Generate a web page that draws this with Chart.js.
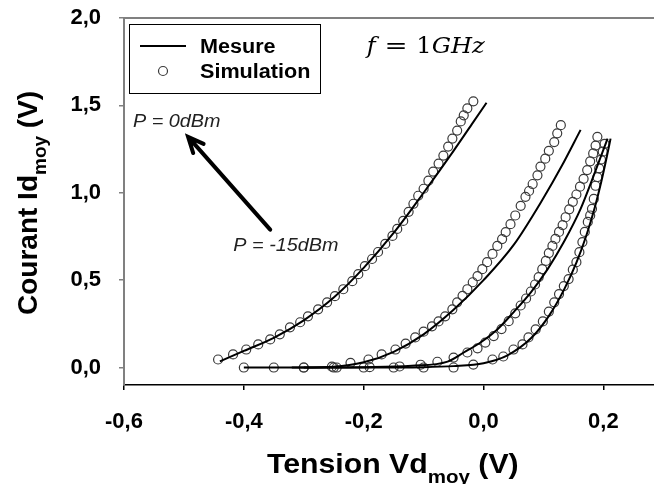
<!DOCTYPE html>
<html>
<head>
<meta charset="utf-8">
<script src="https://cdn.jsdelivr.net/npm/chart.js@4.4.1/dist/chart.umd.min.js"></script>
<style>
html,body{margin:0;padding:0;background:#fff;overflow:hidden}
</style>
</head>
<body>
<canvas id="chart" width="660" height="484"></canvas>
<script>

/* AXES */

const xTickValues = [-0.6, -0.4, -0.2, 0.0, 0.2];
const yTickValues = [0.0, 0.5, 1.0, 1.5, 2.0];

const legendLabels = ["Mesure", "Simulation"];

/* MESURE (lines) */

const mesure1X = [-0.44, -0.40, -0.35, -0.30, -0.25, -0.20, -0.15, -0.10, -0.05, -0.02, 0.005];
const mesure1Y = [0.035, 0.095, 0.17, 0.27, 0.40, 0.57, 0.77, 1.00, 1.24, 1.39, 1.515];

const mesure2X = [-0.32, -0.25, -0.20, -0.15, -0.10, -0.05, 0.00, 0.05, 0.10, 0.13, 0.162];
const mesure2Y = [0.0, 0.005, 0.03, 0.09, 0.19, 0.33, 0.50, 0.70, 0.97, 1.15, 1.36];

const mesure3X = [-0.30, -0.20, -0.12, -0.06, -0.033, -0.005, 0.023, 0.05, 0.079, 0.107, 0.134, 0.162, 0.184, 0.207];
const mesure3Y = [0.0, 0.002, 0.01, 0.034, 0.086, 0.143, 0.218, 0.316, 0.43, 0.563, 0.718, 0.908, 1.10, 1.31];

const mesure4X = [-0.40, -0.30, -0.20, -0.10, -0.05, 0.0, 0.04, 0.08, 0.11, 0.135, 0.155, 0.172, 0.186, 0.197, 0.206, 0.212];
const mesure4Y = [0.0, 0.0, 0.0, 0.002, 0.008, 0.025, 0.07, 0.17, 0.30, 0.45, 0.60, 0.76, 0.92, 1.07, 1.21, 1.31];

/* SIMULATION (circles) */

const sim1X = [-0.443, -0.418, -0.396, -0.376, -0.356, -0.34, -0.323, -0.306, -0.293, -0.276, -0.261, -0.248, -0.234, -0.219, -0.209, -0.198, -0.186, -0.176, -0.164, -0.152, -0.144, -0.134, -0.125, -0.117, -0.109, -0.10, -0.092, -0.084, -0.075, -0.067, -0.059, -0.052, -0.044, -0.038, -0.033, -0.027, -0.017];
const sim1Y = [0.046, 0.075, 0.103, 0.132, 0.161, 0.19, 0.23, 0.259, 0.293, 0.333, 0.373, 0.408, 0.448, 0.494, 0.534, 0.58, 0.621, 0.661, 0.707, 0.753, 0.793, 0.839, 0.891, 0.937, 0.983, 1.023, 1.069, 1.121, 1.167, 1.213, 1.264, 1.31, 1.356, 1.408, 1.443, 1.483, 1.523];

const sim2X = [-0.30, -0.253, -0.222, -0.192, -0.17, -0.147, -0.13, -0.114, -0.10, -0.086, -0.075, -0.064, -0.052, -0.044, -0.035, -0.027, -0.018, -0.01, -0.002, 0.006, 0.015, 0.023, 0.031, 0.037, 0.045, 0.053, 0.062, 0.07, 0.076, 0.082, 0.09, 0.095, 0.103, 0.109, 0.118, 0.123, 0.129];
const sim2Y = [0.0, 0.005, 0.027, 0.046, 0.075, 0.103, 0.137, 0.172, 0.205, 0.236, 0.264, 0.293, 0.333, 0.373, 0.41, 0.448, 0.488, 0.523, 0.563, 0.603, 0.65, 0.696, 0.735, 0.775, 0.82, 0.87, 0.925, 0.977, 1.01, 1.05, 1.10, 1.15, 1.195, 1.24, 1.29, 1.34, 1.387];

const sim3X = [-0.245, -0.19, -0.14, -0.105, -0.077, -0.05, -0.027, -0.01, 0.003, 0.017, 0.03, 0.042, 0.053, 0.062, 0.071, 0.079, 0.086, 0.092, 0.098, 0.104, 0.109, 0.115, 0.12, 0.126, 0.132, 0.137, 0.143, 0.149, 0.155, 0.161, 0.167, 0.173, 0.178, 0.183, 0.187, 0.19];
const sim3Y = [0.0, 0.002, 0.006, 0.016, 0.033, 0.057, 0.086, 0.11, 0.143, 0.18, 0.22, 0.265, 0.31, 0.355, 0.395, 0.435, 0.475, 0.517, 0.563, 0.61, 0.655, 0.696, 0.736, 0.776, 0.815, 0.86, 0.905, 0.948, 0.99, 1.035, 1.08, 1.13, 1.18, 1.225, 1.27, 1.32];

const sim4X = [-0.40, -0.35, -0.30, -0.25, -0.20, -0.15, -0.10, -0.05, -0.017, 0.015, 0.033, 0.05, 0.065, 0.075, 0.087, 0.099, 0.109, 0.118, 0.126, 0.134, 0.142, 0.149, 0.155, 0.16, 0.165, 0.169, 0.174, 0.178, 0.181, 0.184, 0.187, 0.19, 0.193, 0.196, 0.199, 0.202];
const sim4Y = [0.0, 0.0, 0.0, 0.0, 0.0, 0.0, 0.0, 0.0, 0.017, 0.046, 0.063, 0.103, 0.132, 0.172, 0.218, 0.264, 0.32, 0.373, 0.42, 0.466, 0.506, 0.56, 0.603, 0.66, 0.718, 0.776, 0.833, 0.87, 0.908, 0.965, 1.04, 1.09, 1.14, 1.19, 1.235, 1.28];

/* HELPERS */

const FONT = "'Liberation Sans', Arial, sans-serif";
Chart.defaults.font.family = FONT;

function pts(xs, ys){
return xs.map((x,i)=>({x:x, y:ys[i]}));
}

function fmt(v){
if(Math.abs(v)<1e-9) v=0;
return v.toFixed(1).replace(".", ",");
}

function txt(ctx, s, x, y, font, sx){
ctx.save();
ctx.font = font;
ctx.translate(x, y);
ctx.scale(sx || 1, 1);
ctx.fillText(s, 0, 0);
const w = ctx.measureText(s).width * (sx || 1);
ctx.restore();
return w;
}

function lineSet(xs, ys){
return {
label: legendLabels[0],
data: pts(xs, ys),
showLine: true,
borderColor: "#000",
borderWidth: 2,
pointRadius: 0,
cubicInterpolationMode: "monotone",
fill: false
};
}

function simSet(xs, ys){
return {
label: legendLabels[1],
data: pts(xs, ys),
showLine: false,
pointRadius: 4.5,
pointStyle: "circle",
pointBackgroundColor: "rgba(255,255,255,0)",
pointBorderColor: "#3a3a3a",
pointBorderWidth: 1.2
};
}

/* EXTRA DRAWING: frame, legend, notes, axis titles */

const extras = {
id: "extras",
afterDraw(chart){

const ctx = chart.ctx;
const a = chart.chartArea;
const xs = chart.scales.x;
const ys = chart.scales.y;

ctx.save();
ctx.fillStyle = "#000";
ctx.textBaseline = "alphabetic";

// top frame line
ctx.strokeStyle = "#808080";
ctx.lineWidth = 2;
ctx.beginPath();
ctx.moveTo(a.left, a.top);
ctx.lineTo(a.right, a.top);
ctx.stroke();

// legend box
const bx = a.left + 5, by = a.top + 6;
ctx.fillStyle = "#fff";
ctx.fillRect(bx, by, 191, 69);
ctx.strokeStyle = "#000";
ctx.lineWidth = 1;
ctx.strokeRect(bx + 0.5, by + 0.5, 191, 69);

ctx.lineWidth = 2;
ctx.beginPath();
ctx.moveTo(bx + 11, by + 22);
ctx.lineTo(bx + 57, by + 22);
ctx.stroke();

ctx.strokeStyle = "#3a3a3a";
ctx.lineWidth = 1.2;
ctx.beginPath();
ctx.arc(bx + 34, by + 47, 4.5, 0, Math.PI*2);
ctx.stroke();

ctx.fillStyle = "#000";
txt(ctx, legendLabels[0], bx + 71, by + 29, "bold 20px " + FONT, 1.08);
txt(ctx, legendLabels[1], bx + 71, by + 54, "bold 20px " + FONT, 1.08);

// f = 1GHz
let fx = xs.getPixelForValue(-0.195);
const fy = ys.getPixelForValue(1.80);
const serif = "'DejaVu Serif', 'Liberation Serif', serif";
fx += txt(ctx, "f", fx, fy, "italic 23px " + serif, 1.05);
fx += txt(ctx, " = ", fx, fy, "23px " + serif, 1.2);
fx += txt(ctx, "1", fx, fy, "23px " + serif, 1.05);
txt(ctx, "GHz", fx, fy, "italic 23px " + serif, 1.05);

// power notes
ctx.fillStyle = "#222";
txt(ctx, "P = 0dBm", xs.getPixelForValue(-0.585), ys.getPixelForValue(1.377), "italic 18px " + FONT, 1.1);
txt(ctx, "P = -15dBm", xs.getPixelForValue(-0.4175), ys.getPixelForValue(0.669), "italic 18px " + FONT, 1.1);

// arrow -15dBm -> 0dBm
const tx = xs.getPixelForValue(-0.356), ty = ys.getPixelForValue(0.789);
const hx = xs.getPixelForValue(-0.493), hy = ys.getPixelForValue(1.32);
const ang = Math.atan2(hy - ty, hx - tx);
ctx.strokeStyle = "#000";
ctx.lineWidth = 4;
ctx.lineCap = "round";
ctx.beginPath();
ctx.moveTo(tx, ty);
ctx.lineTo(hx, hy);
ctx.moveTo(hx - 17*Math.cos(ang - 0.42), hy - 17*Math.sin(ang - 0.42));
ctx.lineTo(hx, hy);
ctx.lineTo(hx - 17*Math.cos(ang + 0.42), hy - 17*Math.sin(ang + 0.42));
ctx.stroke();

// x title
ctx.fillStyle = "#000";
let px = 267;
px += txt(ctx, "Tension Vd", px, 473, "bold 28px " + FONT, 1.08);
px += txt(ctx, "moy", px, 483, "bold 19px " + FONT, 1.08);
txt(ctx, " (V)", px, 473, "bold 28px " + FONT, 1.08);

// y title (rotated)
ctx.save();
ctx.translate(37, 315);
ctx.rotate(-Math.PI/2);
let py = 0;
py += txt(ctx, "Courant Id", py, 0, "bold 28px " + FONT, 1);
py += txt(ctx, "moy", py, 9, "bold 19px " + FONT, 1);
txt(ctx, " (V)", py, 0, "bold 28px " + FONT, 1);
ctx.restore();

ctx.restore();
}
};

/* CHART */

const ctx = document.getElementById("chart");

new Chart(ctx, {
type: "scatter",
data: {
datasets: [
lineSet(mesure1X, mesure1Y),
lineSet(mesure2X, mesure2Y),
lineSet(mesure3X, mesure3Y),
lineSet(mesure4X, mesure4Y),
simSet(sim1X, sim1Y),
simSet(sim2X, sim2Y),
simSet(sim3X, sim3Y),
simSet(sim4X, sim4Y)
]
},
options: {
responsive: false,
animation: false,
devicePixelRatio: 1,
layout: {padding: {top: 18, right: 0, bottom: 0, left: 0}},
plugins: {
legend: {display: false},
tooltip: {enabled: false}
},
scales: {
x: {
type: "linear",
min: -0.6,
max: 0.285,
afterBuildTicks: s => { s.ticks = xTickValues.map(v => ({value: v})); },
afterFit: s => { s.height = 99; s.paddingLeft = 0; s.paddingRight = 0; },
grid: {drawOnChartArea: false, drawTicks: true, tickLength: 5, color: "#000", lineWidth: 1.5},
border: {color: "#000", width: 1.5},
ticks: {padding: 19, color: "#000", font: {size: 22, weight: "bold"}, maxRotation: 0, autoSkip: false, callback: v => fmt(v)}
},
y: {
type: "linear",
min: -0.1,
max: 2.0,
afterBuildTicks: s => { s.ticks = yTickValues.map(v => ({value: v})); },
afterFit: s => { s.width = 124; s.paddingTop = 0; s.paddingBottom = 0; },
grid: {drawOnChartArea: false, drawTicks: true, tickLength: 5, color: "#808080", lineWidth: 1.5},
border: {color: "#808080", width: 2},
ticks: {padding: 18, color: "#000", font: {size: 22, weight: "bold"}, autoSkip: false, callback: v => fmt(v)}
}
}
},
plugins: [extras]
});

</script>
</body>
</html>
